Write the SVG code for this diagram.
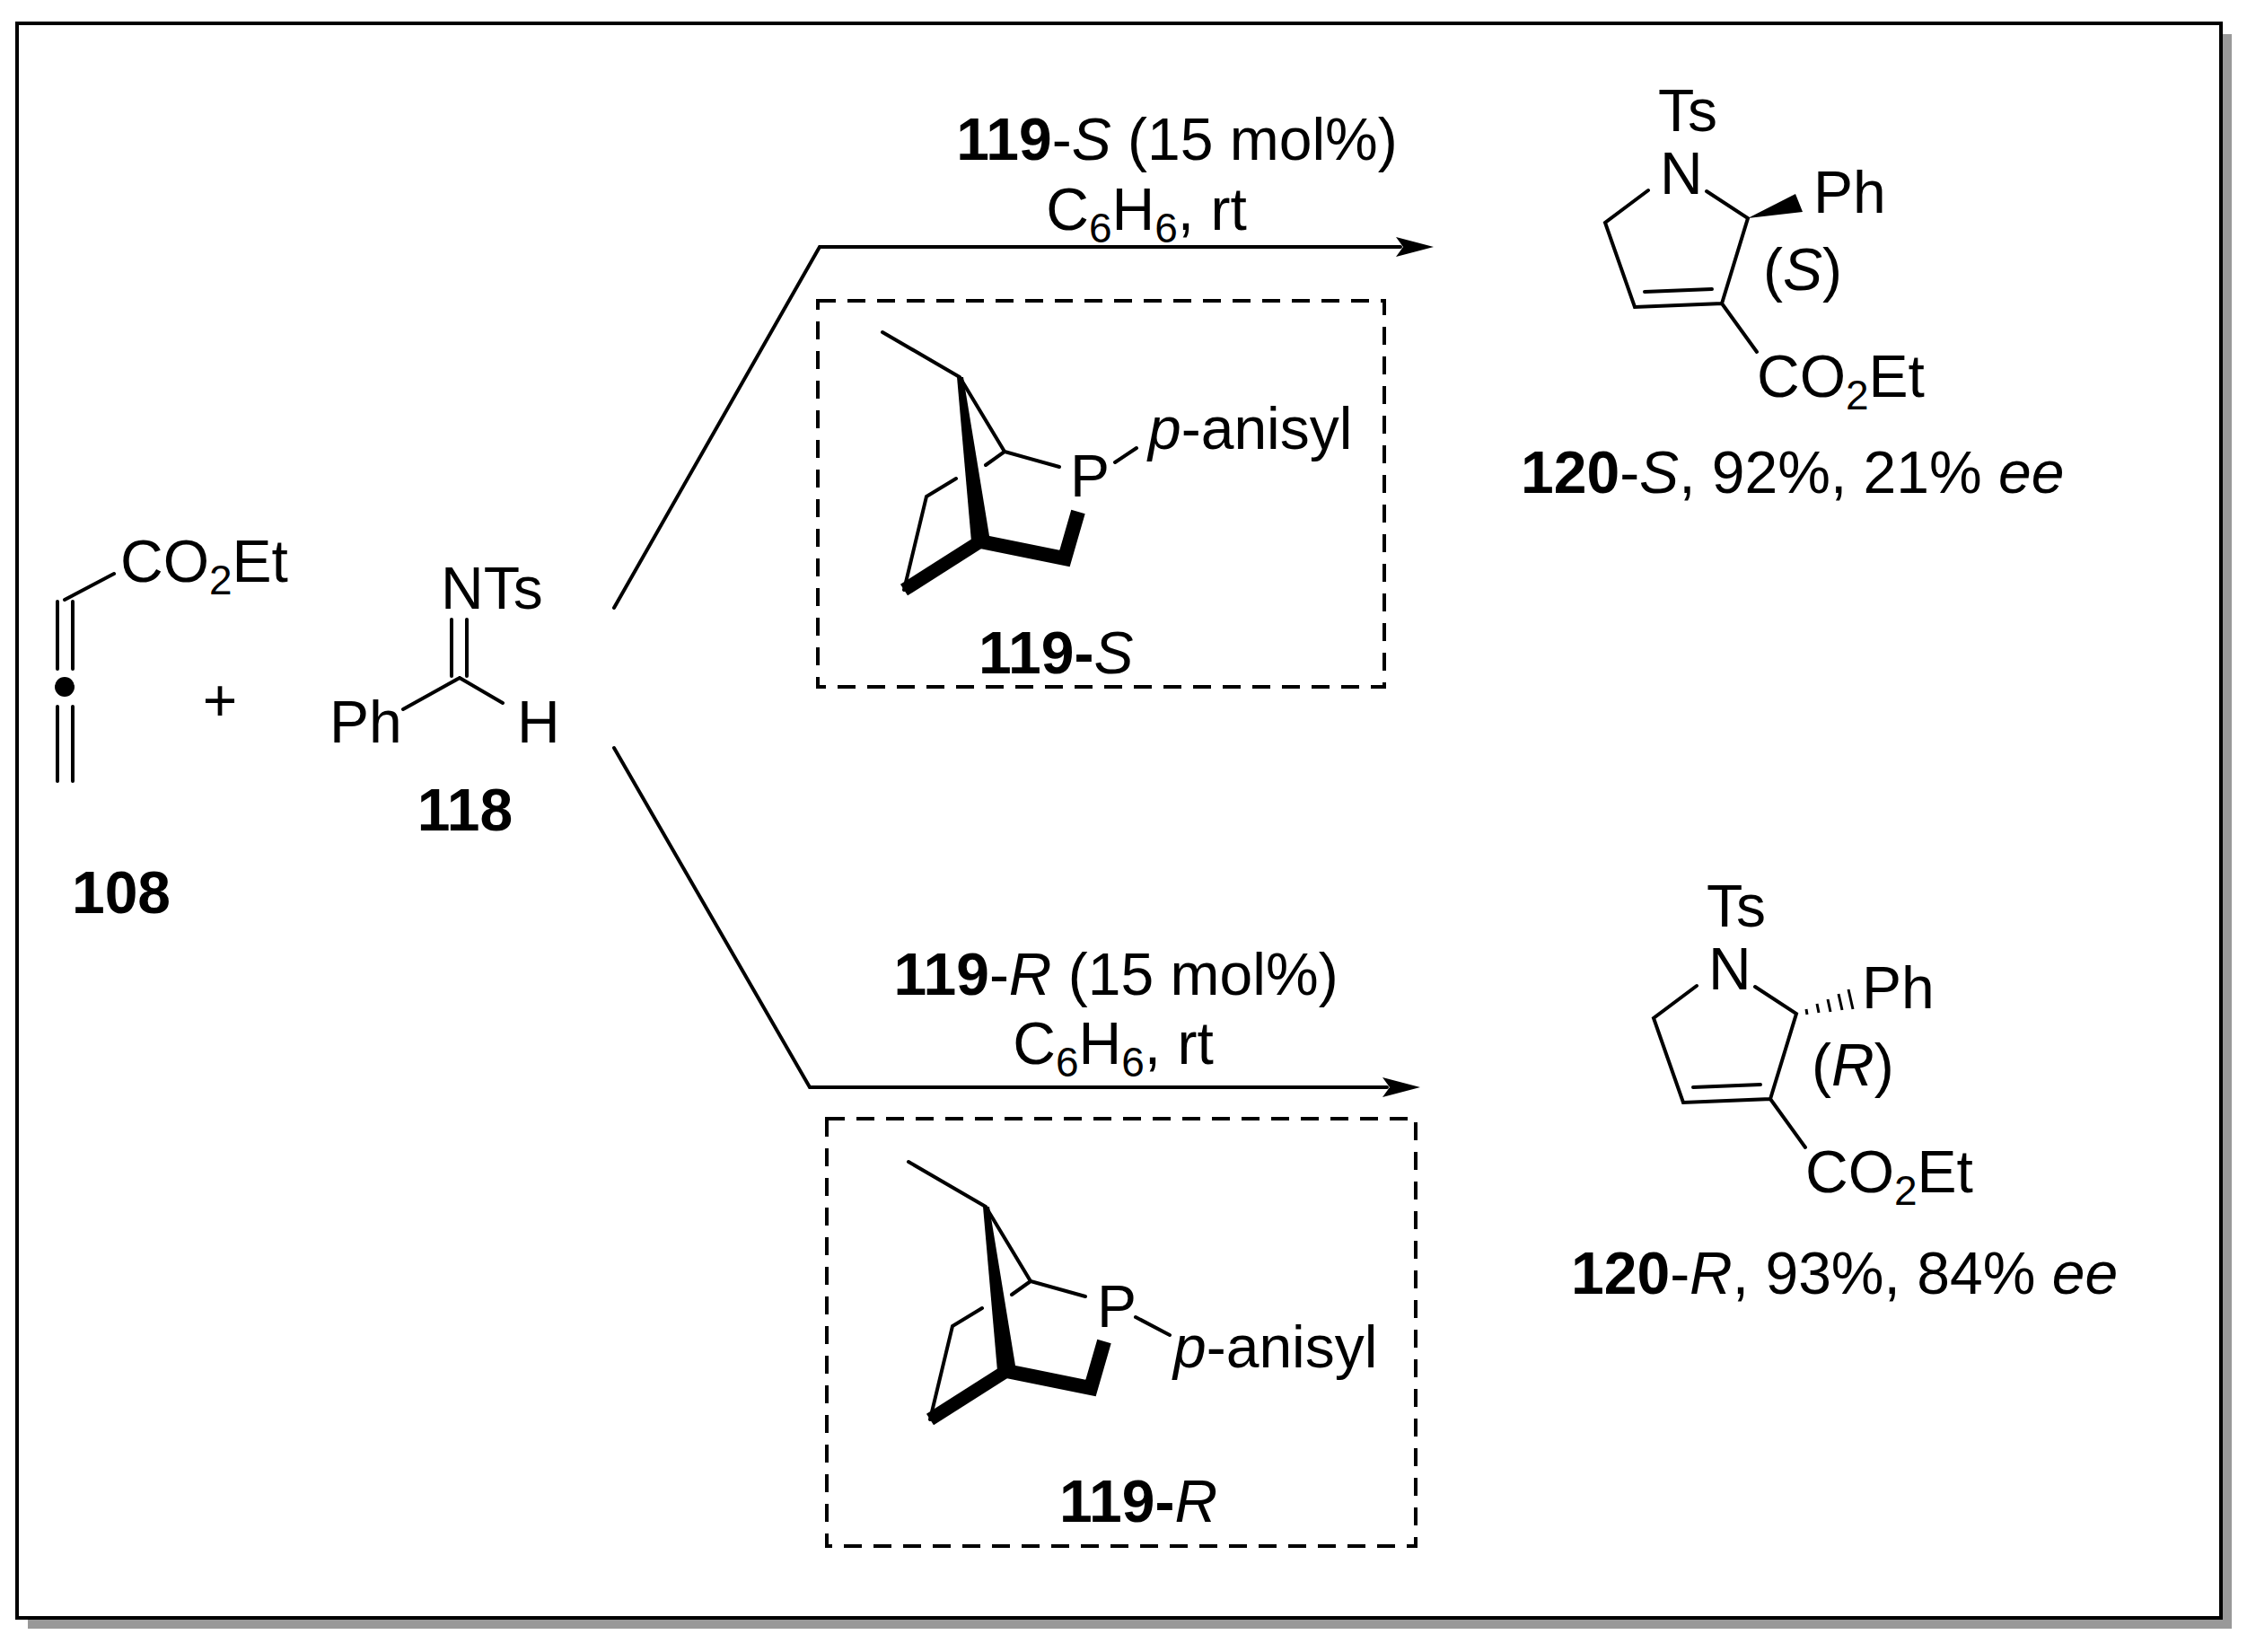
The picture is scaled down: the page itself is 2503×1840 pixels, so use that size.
<svg xmlns="http://www.w3.org/2000/svg" width="2503" height="1840" viewBox="0 0 2503 1840">
<style>
.b{stroke:#000;stroke-width:4;fill:none;stroke-linecap:round}
.d{stroke:#000;stroke-width:4;fill:none;stroke-dasharray:20 13}
.t{font-family:"Liberation Sans",Arial,sans-serif;font-size:66px;fill:#000}
.bo{font-weight:bold}
.i{font-style:italic}
.s{font-size:46px}
</style>
<defs>
<g id="bicycle">
<path class="b" d="M983,370 L1069,420 L1119,503 L1180,520 M1119,503 L1098,518 M1065,533 L1032,553 L1007,657"/>
<polygon points="1066,420 1073,420 1103,603 1082,603"/>
<path d="M1007,657 L1092,603" stroke="#000" stroke-width="15" stroke-linecap="butt"/>
<path d="M1092,603 L1186,622 L1201,570" stroke="#000" stroke-width="16" fill="none" stroke-linejoin="miter"/>
</g>
</defs>
<rect x="31" y="38" width="2455" height="1776" fill="#999"/>
<rect x="19" y="26" width="2455" height="1776" fill="#fff" stroke="#000" stroke-width="4"/>

<g id="n108">
<path class="b" d="M64,670 V745 M81,670 V745 M64,787 V870 M81,787 V870 M72,668 L127,639"/>
<circle cx="72" cy="765" r="11"/>
<text class="t" x="134" y="648">CO<tspan class="s" dy="14">2</tspan><tspan dy="-14">Et</tspan></text>
<text class="t bo" x="135" y="1017" text-anchor="middle">108</text>
</g>
<g id="plus"><text class="t" x="245" y="803" text-anchor="middle">+</text></g>
<g id="n118">
<path class="b" d="M503,690 V753 M520,690 V753 M512,755 L449,790 M512,755 L560,783"/>
<text class="t" x="491" y="678">NTs</text>
<text class="t" x="367" y="827">Ph</text>
<text class="t" x="576" y="827">H</text>
<text class="t bo" x="518" y="925" text-anchor="middle">118</text>
</g>

<g id="connectors">
<path class="b" d="M684,677 L913,275 L1560,275"/>
<polygon points="1597,275 1555,264 1563,275 1555,286"/>
<path class="b" d="M684,833 L902,1211 L1545,1211"/>
<polygon points="1582,1211 1540,1200 1548,1211 1540,1222"/>
</g>

<g id="cond1">
<text class="t" x="1311" y="178" text-anchor="middle"><tspan class="bo">119</tspan>-<tspan class="i">S</tspan> (15 mol%)</text>
<text class="t" x="1277" y="256" text-anchor="middle">C<tspan class="s" dy="14">6</tspan><tspan dy="-14">H</tspan><tspan class="s" dy="14">6</tspan><tspan dy="-14">, rt</tspan></text>
</g>
<g id="cond2">
<text class="t" x="1243" y="1108" text-anchor="middle"><tspan class="bo">119</tspan>-<tspan class="i">R</tspan> (15 mol%)</text>
<text class="t" x="1240" y="1185" text-anchor="middle">C<tspan class="s" dy="14">6</tspan><tspan dy="-14">H</tspan><tspan class="s" dy="14">6</tspan><tspan dy="-14">, rt</tspan></text>
</g>

<g id="n119S">
<rect class="d" x="911" y="335" width="631" height="430"/>
<use href="#bicycle"/>
<text class="t" x="1192" y="553">P</text>
<path class="b" d="M1242,515 L1266,499"/>
<text class="t" x="1279" y="500"><tspan class="i">p</tspan>-anisyl</text>
<text class="t" x="1090" y="750"><tspan class="bo">119</tspan><tspan class="bo">-</tspan><tspan class="i">S</tspan></text>
</g>

<g id="n119R">
<rect class="d" x="921" y="1246" width="656" height="476"/>
<use href="#bicycle" transform="translate(29,924)"/>
<text class="t" x="1222" y="1478">P</text>
<path class="b" d="M1265,1467 L1303,1487"/>
<text class="t" x="1307" y="1523"><tspan class="i">p</tspan>-anisyl</text>
<text class="t" x="1180" y="1695"><tspan class="bo">119</tspan><tspan class="bo">-</tspan><tspan class="i">R</tspan></text>
</g>

<g id="n120S">
<text class="t" x="1847" y="146">Ts</text>
<text class="t" x="1849" y="216">N</text>
<path class="b" d="M1836,212 L1788,248 L1821,342 L1918,338 L1947,243 L1901,213 M1832,325 L1907,322 M1918,338 L1957,392"/>
<polygon points="1947,243 2000,216 2008,236"/>
<text class="t" x="2020" y="237">Ph</text>
<text class="t" x="1964" y="323">(<tspan class="i">S</tspan>)</text>
<text class="t" x="1957" y="442">CO<tspan class="s" dy="14">2</tspan><tspan dy="-14">Et</tspan></text>
<text class="t" x="1694" y="549"><tspan class="bo">120</tspan>-<tspan class="i">S</tspan>, 92%, 21% <tspan class="i">ee</tspan></text>
</g>

<g id="n120R" transform="translate(54,886)">
<text class="t" x="1847" y="146">Ts</text>
<text class="t" x="1849" y="216">N</text>
<path class="b" d="M1836,212 L1788,248 L1821,342 L1918,338 L1947,243 L1901,213 M1832,325 L1907,322 M1918,338 L1957,392"/>
<path stroke="#000" stroke-width="3" d="M1958,238 L1959,244 M1970,232 L1972,242 M1982,227 L1985,241 M1994,221 L1998,239 M2005,216 L2010,238"/>
<text class="t" x="2020" y="237">Ph</text>
<text class="t" x="1964" y="323">(<tspan class="i">R</tspan>)</text>
<text class="t" x="1957" y="442">CO<tspan class="s" dy="14">2</tspan><tspan dy="-14">Et</tspan></text>
<text class="t" x="1696" y="555"><tspan class="bo">120</tspan>-<tspan class="i">R</tspan>, 93%, 84% <tspan class="i">ee</tspan></text>
</g>
</svg>
